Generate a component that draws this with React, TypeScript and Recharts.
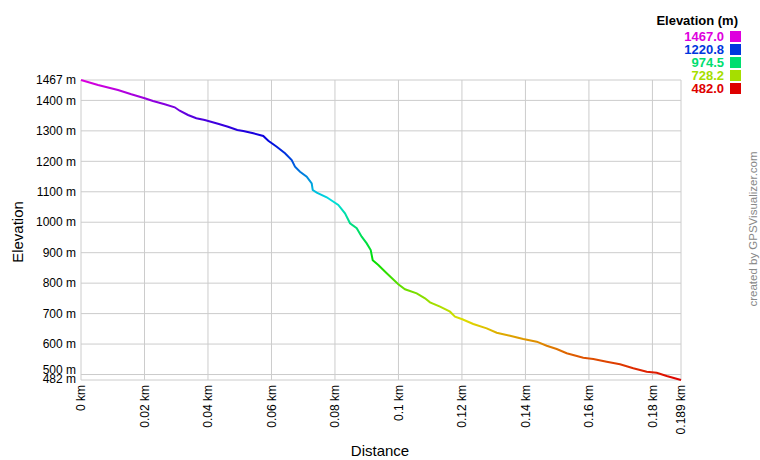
import { LineChart, Line, XAxis, YAxis, CartesianGrid } from "recharts";

// profile (km, m)
const distanceKm = [
  0, 0.00536, 0.01166, 0.01585, 0.02007, 0.02268, 0.02637, 0.02952, 0.03109, 0.03371,
  0.03632, 0.03897, 0.04316, 0.04631, 0.04923, 0.05112, 0.05427, 0.05742, 0.059, 0.06165,
  0.06426, 0.06637, 0.06741, 0.06899, 0.0711, 0.07267, 0.07299, 0.07425, 0.0774, 0.08105,
  0.08316, 0.08474, 0.08685, 0.08842, 0.09, 0.09126, 0.09189, 0.09365, 0.0963, 0.09995,
  0.10206, 0.10575, 0.10836, 0.10994, 0.11309, 0.11624, 0.11781, 0.12011, 0.12357, 0.1278,
  0.13095, 0.13514, 0.13932, 0.14355, 0.1467, 0.14985, 0.153, 0.15822, 0.16137, 0.1656,
  0.16979, 0.17397, 0.1782, 0.18134, 0.1845, 0.189,
];
const elevationM = [
  1467, 1450.6, 1434.2, 1420, 1406.9, 1398.1, 1387.2, 1377.4, 1366.2, 1352.1,
  1341.3, 1335.7, 1323.5, 1313.7, 1302.8, 1299.5, 1292, 1283.1, 1267.7, 1248,
  1226.3, 1204.3, 1182.3, 1165.9, 1149.5, 1127.8, 1105.8, 1097, 1081.9, 1056.6,
  1029.3, 996.5, 980.1, 952.5, 930.5, 908.5, 875.5, 859.6, 832.3, 796.2,
  779.8, 766.7, 750.2, 737.1, 722.7, 706.3, 689.8, 681.3, 665.9, 651.7,
  637.3, 627.4, 616.6, 607.8, 594.6, 583.8, 569.7, 555.2, 551, 542.1,
  533.5, 520.4, 509.3, 506, 495.2, 482,
];

const yTicks = [482, 500, 600, 700, 800, 900, 1000, 1100, 1200, 1300, 1400, 1467];
const xTicks = [0, 0.02, 0.04, 0.06, 0.08, 0.1, 0.12, 0.14, 0.16, 0.18, 0.189];

const legendValues = ["1467.0", "1220.8", "974.5", "728.2", "482.0"];
const legendHues = [300, 225, 150, 75, 0];

const FONT = "Arial, 'Liberation Sans', sans-serif";

function hueColor(h: number) {
  const v = 0.87;
  const f = (n: number) => {
    const k = (n + h / 60) % 6;
    const c = v - v * Math.max(0, Math.min(k, 4 - k, 1));
    return Math.round(c * 255).toString(16).padStart(2, "0");
  };
  return "#" + f(5) + f(3) + f(1);
}

const data = distanceKm.map((d, i) => ({ dist: d, elev: elevationM[i] }));

const gradientStops = Array.from({ length: 11 }, (_, i) => ({
  offset: i / 10,
  color: hueColor(300 * (1 - i / 10)),
}));

const XTick = ({ x, y, payload }: any) => (
  <text
    x={x}
    y={y}
    transform={`rotate(-90 ${x} ${y})`}
    textAnchor="end"
    dy="0.35em"
    fontSize={12}
    fontFamily={FONT}
    fill="#000"
  >
    {payload.value} km
  </text>
);

// the two bottom labels sit close together; nudge them apart like the original
const YTick = ({ x, y, payload }: any) => {
  const nudge = payload.value === 500 ? -5 : payload.value === 482 ? -1 : 0;
  return (
    <text
      x={x}
      y={y + nudge}
      textAnchor="end"
      dy="0.35em"
      fontSize={12}
      fontFamily={FONT}
      fill="#000"
    >
      {payload.value} m
    </text>
  );
};

export default function App() {
  return (
    <div style={{ position: "absolute", left: 0, top: 0, width: 760, height: 460, background: "#fff", fontFamily: FONT }}>
      <LineChart
        width={760}
        height={460}
        data={data}
        margin={{ top: 80, right: 79, bottom: 0, left: 0 }}
      >
        <defs>
          <linearGradient id="elevGrad" x1="0" y1="0" x2="0" y2="1">
            {gradientStops.map((s) => (
              <stop key={s.offset} offset={s.offset} stopColor={s.color} />
            ))}
          </linearGradient>
        </defs>
        <CartesianGrid stroke="#cccccc" strokeWidth={1} />
        <XAxis
          dataKey="dist"
          type="number"
          domain={[0, 0.189]}
          ticks={xTicks}
          interval={0}
          height={80}
          axisLine={false}
          tickLine={false}
          tickSize={0}
          tickMargin={5}
          tick={<XTick />}
        />
        <YAxis
          dataKey="elev"
          type="number"
          domain={[482, 1467]}
          ticks={yTicks}
          interval={0}
          width={81}
          axisLine={false}
          tickLine={false}
          tickSize={0}
          tickMargin={5}
          tick={<YTick />}
        />
        <Line
          type="linear"
          dataKey="elev"
          stroke="url(#elevGrad)"
          strokeWidth={2}
          dot={false}
          isAnimationActive={false}
        />
      </LineChart>

      <div
        style={{
          position: "absolute",
          left: 17,
          top: 232,
          transform: "translate(-50%, -50%) rotate(-90deg)",
          fontSize: 15,
          whiteSpace: "nowrap",
        }}
      >
        Elevation
      </div>
      <div
        style={{
          position: "absolute",
          left: 380,
          top: 450,
          transform: "translate(-50%, -50%)",
          fontSize: 15,
          whiteSpace: "nowrap",
        }}
      >
        Distance
      </div>
      <div
        style={{
          position: "absolute",
          left: 753,
          top: 229,
          transform: "translate(-50%, -50%) rotate(-90deg)",
          fontSize: 11.5,
          color: "#888",
          whiteSpace: "nowrap",
        }}
      >
        created by GPSVisualizer.com
      </div>

      <div style={{ position: "absolute", right: 22, top: 13, fontSize: 13, fontWeight: "bold", lineHeight: "16px" }}>
        Elevation (m)
      </div>
      {legendValues.map((v, i) => (
        <div
          key={v}
          style={{
            position: "absolute",
            right: 19,
            top: 30 + i * 13,
            height: 13,
            lineHeight: "13px",
            display: "flex",
            alignItems: "center",
            fontSize: 13,
            fontWeight: "bold",
            color: hueColor(legendHues[i]),
          }}
        >
          <span style={{ lineHeight: "13px" }}>{v}</span>
          <span style={{ display: "inline-block", width: 11, height: 11, marginLeft: 6, background: hueColor(legendHues[i]) }} />
        </div>
      ))}
    </div>
  );
}
